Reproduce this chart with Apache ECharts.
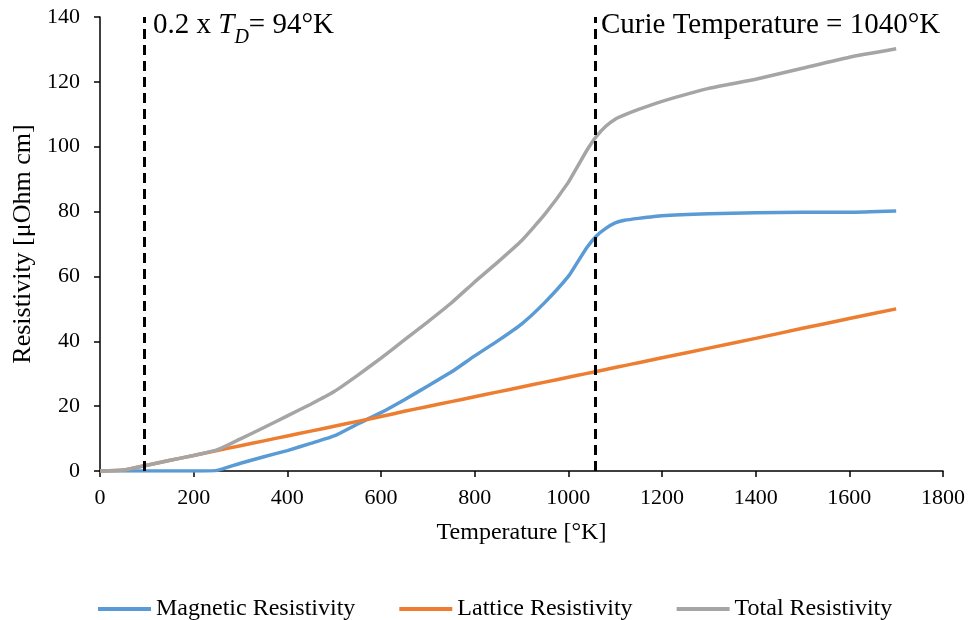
<!DOCTYPE html>
<html>
<head>
<meta charset="utf-8">
<script src="https://cdn.jsdelivr.net/npm/echarts@6/dist/echarts.min.js"></script>
<style>
  html, body { margin: 0; padding: 0; background: #fff; }
  #chart { width: 972px; height: 620px; }
</style>
</head>
<body>
<div id="chart"></div>
<script>
// temperatures [°K]
const temps = [0, 50, 100, 150, 200, 250, 300, 350, 400, 450, 500, 550, 600, 650, 700, 750,
  800, 850, 900, 950, 1000, 1020, 1040, 1060, 1080, 1100, 1120, 1150, 1200, 1300, 1400, 1500, 1600, 1700]

// resistivity [µOhm cm]
const magnetic = [0, 0, 0, 0, 0, 0.2, 2.4, 4.4, 6.3, 8.5, 10.8, 14.5, 18.0, 22.0, 26.2, 30.5,
  35.5, 40.2, 45.3, 52.0, 60.0, 64.5, 69.0, 72.5, 74.8, 76.5, 77.3, 77.9, 78.7, 79.3, 79.6, 79.8, 79.8, 80.2]
const lattice = [0, 0.3, 1.8, 3.3, 4.8, 6.3, 7.8, 9.3, 10.8, 12.3, 13.8, 15.3, 16.8, 18.4, 19.9, 21.4,
  22.9, 24.4, 25.9, 27.4, 28.9, 29.5, 30.1, 30.7, 31.3, 31.9, 32.5, 33.4, 34.9, 37.9, 40.9, 44.0, 47.0, 50.0]
const total = [0, 0.3, 1.8, 3.3, 4.8, 6.5, 9.9, 13.4, 17.0, 20.6, 24.5, 29.5, 34.8, 40.4, 46.0, 51.8,
  58.3, 64.5, 71.0, 79.2, 89.0, 94.0, 99.0, 103.2, 106.3, 108.5, 109.8, 111.5, 114.0, 118.0, 120.8, 124.2, 127.6, 130.2]

// vertical markers
const debyeMark = 94
const curieMark = 1057

const font = 'Liberation Serif, Times New Roman, serif'
const black = '#000'

function pairs(values) {
  return temps.map((t, i) => [t, values[i]])
}

const chart = echarts.init(document.getElementById('chart'))

function lineSeries(name, values, color, extra) {
  return Object.assign({
    name,
    type: 'line',
    data: pairs(values),
    showSymbol: false,
    smooth: 0.15,
    lineStyle: { color, width: 3.5 },
    itemStyle: { color },
    z: 3
  }, extra || {})
}

chart.setOption({
  animation: false,
  textStyle: { fontFamily: font },
  grid: { left: 100, right: 29, top: 17, bottom: 149 },
  xAxis: {
    type: 'value',
    min: 0,
    max: 1800,
    interval: 200,
    name: 'Temperature [°K]',
    nameLocation: 'middle',
    nameGap: 50,
    nameTextStyle: { fontSize: 24, color: black, fontFamily: font },
    axisLine: { show: true, lineStyle: { color: black, width: 1.5 } },
    axisTick: { show: true, length: 6, lineStyle: { color: black, width: 1.5 } },
    axisLabel: { fontSize: 22, color: black, margin: 16, fontFamily: font, formatter: v => String(v) },
    splitLine: { show: false }
  },
  yAxis: {
    type: 'value',
    min: 0,
    max: 140,
    interval: 20,
    name: 'Resistivity [μOhm cm]',
    nameLocation: 'middle',
    nameGap: 64,
    nameTextStyle: { fontSize: 26, color: black, fontFamily: font },
    axisLine: { show: true, lineStyle: { color: black, width: 1.5 } },
    axisTick: { show: true, length: 6, lineStyle: { color: black, width: 1.5 } },
    axisLabel: { fontSize: 22, color: black, margin: 20, fontFamily: font },
    splitLine: { show: false }
  },
  legend: {
    top: 592,
    left: 93,
    icon: 'rect',
    itemWidth: 53,
    itemHeight: 4,
    itemGap: 44,
    textStyle: { fontSize: 24, color: black, fontFamily: font },
    data: ['Magnetic Resistivity', 'Lattice Resistivity', 'Total Resistivity']
  },
  series: [
    lineSeries('Magnetic Resistivity', magnetic, '#5B9BD5', {
      markLine: {
        silent: true,
        symbol: 'none',
        label: { show: false },
        lineStyle: { color: black, type: [10, 6], width: 3 },
        data: [{ xAxis: debyeMark }, { xAxis: curieMark }]
      }
    }),
    lineSeries('Lattice Resistivity', lattice, '#ED7D31'),
    lineSeries('Total Resistivity', total, '#A5A5A5')
  ],
  graphic: [
    {
      type: 'text',
      left: 153,
      top: 11,
      style: {
        text: '{a|0.2 x }{i|T}{s|D}{a|= 94°K}',
        rich: {
          a: { fontSize: 29, fontFamily: font, fill: black, verticalAlign: 'bottom' },
          i: { fontSize: 29, fontFamily: font, fontStyle: 'italic', fill: black, verticalAlign: 'bottom' },
          s: { fontSize: 20, fontFamily: font, fontStyle: 'italic', fill: black, padding: [0, 0, -8, 0], verticalAlign: 'bottom' }
        }
      }
    },
    {
      type: 'text',
      left: 601,
      top: 11,
      style: {
        text: 'Curie Temperature = 1040°K',
        fontSize: 29,
        fontFamily: font,
        fill: black
      }
    }
  ]
})
</script>
</body>
</html>
